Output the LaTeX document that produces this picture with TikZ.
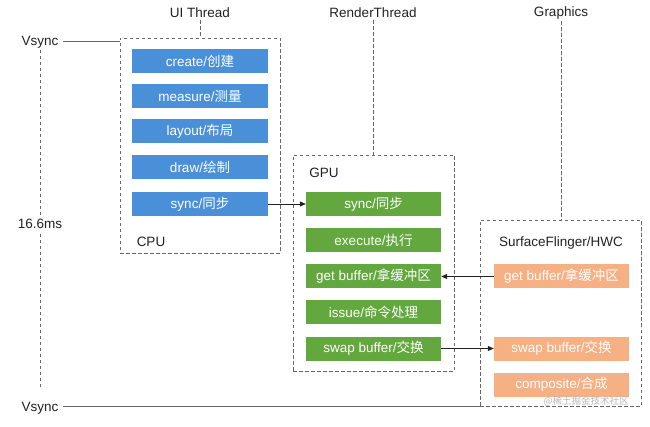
\documentclass[tikz,border=0pt]{standalone}
\usepackage{fontspec}
\setmainfont{Liberation Sans}
\newfontfamily\cjk{Noto Sans CJK SC}
\usetikzlibrary{arrows.meta}
\definecolor{blueC}{HTML}{4A90D9}
\definecolor{greenC}{HTML}{62A83E}
\definecolor{orangeC}{HTML}{F5B084}
\definecolor{txtC}{HTML}{222222}
\definecolor{dashC}{HTML}{666666}
\tikzset{
  stepbox/.style={minimum width=135pt, minimum height=24pt, inner sep=0pt, text=white,
    font=\fontsize{13.5}{15}\selectfont},
  bluebox/.style={stepbox, fill=blueC},
  greenbox/.style={stepbox, fill=greenC},
  orangebox/.style={stepbox, fill=orangeC},
  group/.style={draw=dashC, line width=0.8pt, dash pattern=on 3.5pt off 2.5pt, inner sep=0pt},
  lbl/.style={text=txtC, font=\fontsize{13.5}{15}\selectfont, inner sep=2pt},
  dline/.style={draw=dashC, line width=0.8pt, dash pattern=on 3.5pt off 2.5pt},
  conn/.style={draw=txtC, line width=0.8pt, -{Triangle[length=6pt,width=5pt]}},
  plain/.style={draw=dashC, line width=0.8pt}
}
\begin{document}
\begin{tikzpicture}[x=1pt,y=-1pt]
\useasboundingbox[fill=white] (0,0) rectangle (650,427);
% containers
\node[group, minimum width=160pt, minimum height=215pt] (cpu) at (200,145.5) {};
\node[group, minimum width=161pt, minimum height=216pt] (gpu) at (373.5,263) {};
\node[group, minimum width=161pt, minimum height=186pt] (sf) at (560.5,313) {};
% headings
\node[lbl] (uit) at (200,13) {UI Thread};
\node[lbl] (rt) at (373,13) {RenderThread};
\node[lbl] (gr) at (561,13) {Graphics};
\draw[dline] (uit.south) -- (uit.south |- cpu.north);
\draw[dline] (rt.south) -- (rt.south |- gpu.north);
\draw[dline] (gr.south) -- (gr.south |- sf.north);
% group labels
\node[lbl] (cpul) at (151,242) {CPU};
\node[lbl] (gpul) at (324,173) {GPU};
\node[lbl] (sfl) at (561,243) {SurfaceFlinger/HWC};
% blue
\node[bluebox, minimum width=136pt] (b1) at (200,61) {create/{\cjk 创建}};
\node[bluebox, minimum width=136pt] (b2) at (200,96) {measure/{\cjk 测量}};
\node[bluebox, minimum width=136pt] (b3) at (200,131.5) {layout/{\cjk 布局}};
\node[bluebox, minimum width=136pt] (b4) at (200,167.5) {draw/{\cjk 绘制}};
\node[bluebox, minimum width=136pt] (b5) at (200,204) {sync/{\cjk 同步}};
% green
\node[greenbox] (g1) at (373.5,204) {sync/{\cjk 同步}};
\node[greenbox] (g2) at (373.5,240.5) {execute/{\cjk 执行}};
\node[greenbox] (g3) at (373.5,276.5) {get buffer/{\cjk 拿缓冲区}};
\node[greenbox] (g4) at (373.5,312.5) {issue/{\cjk 命令处理}};
\node[greenbox] (g5) at (373.5,348.5) {swap buffer/{\cjk 交换}};
% orange
\node[orangebox] (o1) at (561.5,276.5) {get buffer/{\cjk 拿缓冲区}};
\node[orangebox] (o2) at (561.5,348.5) {swap buffer/{\cjk 交换}};
\node[orangebox] (o3) at (561.5,384.5) {composite/{\cjk 合成}};
% arrows
\draw[conn] (b5.east) -- (g1.west);
\draw[conn] (o1.west) -- (g3.east);
\draw[conn] (g5.east) -- (o2.west);
% vsync
\node[lbl] (vs1) at (40,42) {Vsync};
\node[lbl] (ms) at (40,224) {16.6ms};
\node[lbl] (vs2) at (40,408) {Vsync};
\coordinate (l1) at (63,41);
\coordinate (l2) at (63,406);
\draw[plain] (l1) -- (l1 -| cpu.west);
\draw[plain] (l2) -- (l2 -| sf.west);
\draw[dline] (40,50) -- (ms.north);
\draw[dline, shorten <=3pt] (ms.south) -- (40,388);
% watermark
\node[text=gray!55, font=\cjk\fontsize{9.5}{10}\selectfont, inner sep=0pt] (wm) at (586,401) {@稀土掘金技术社区};
\end{tikzpicture}
\end{document}
